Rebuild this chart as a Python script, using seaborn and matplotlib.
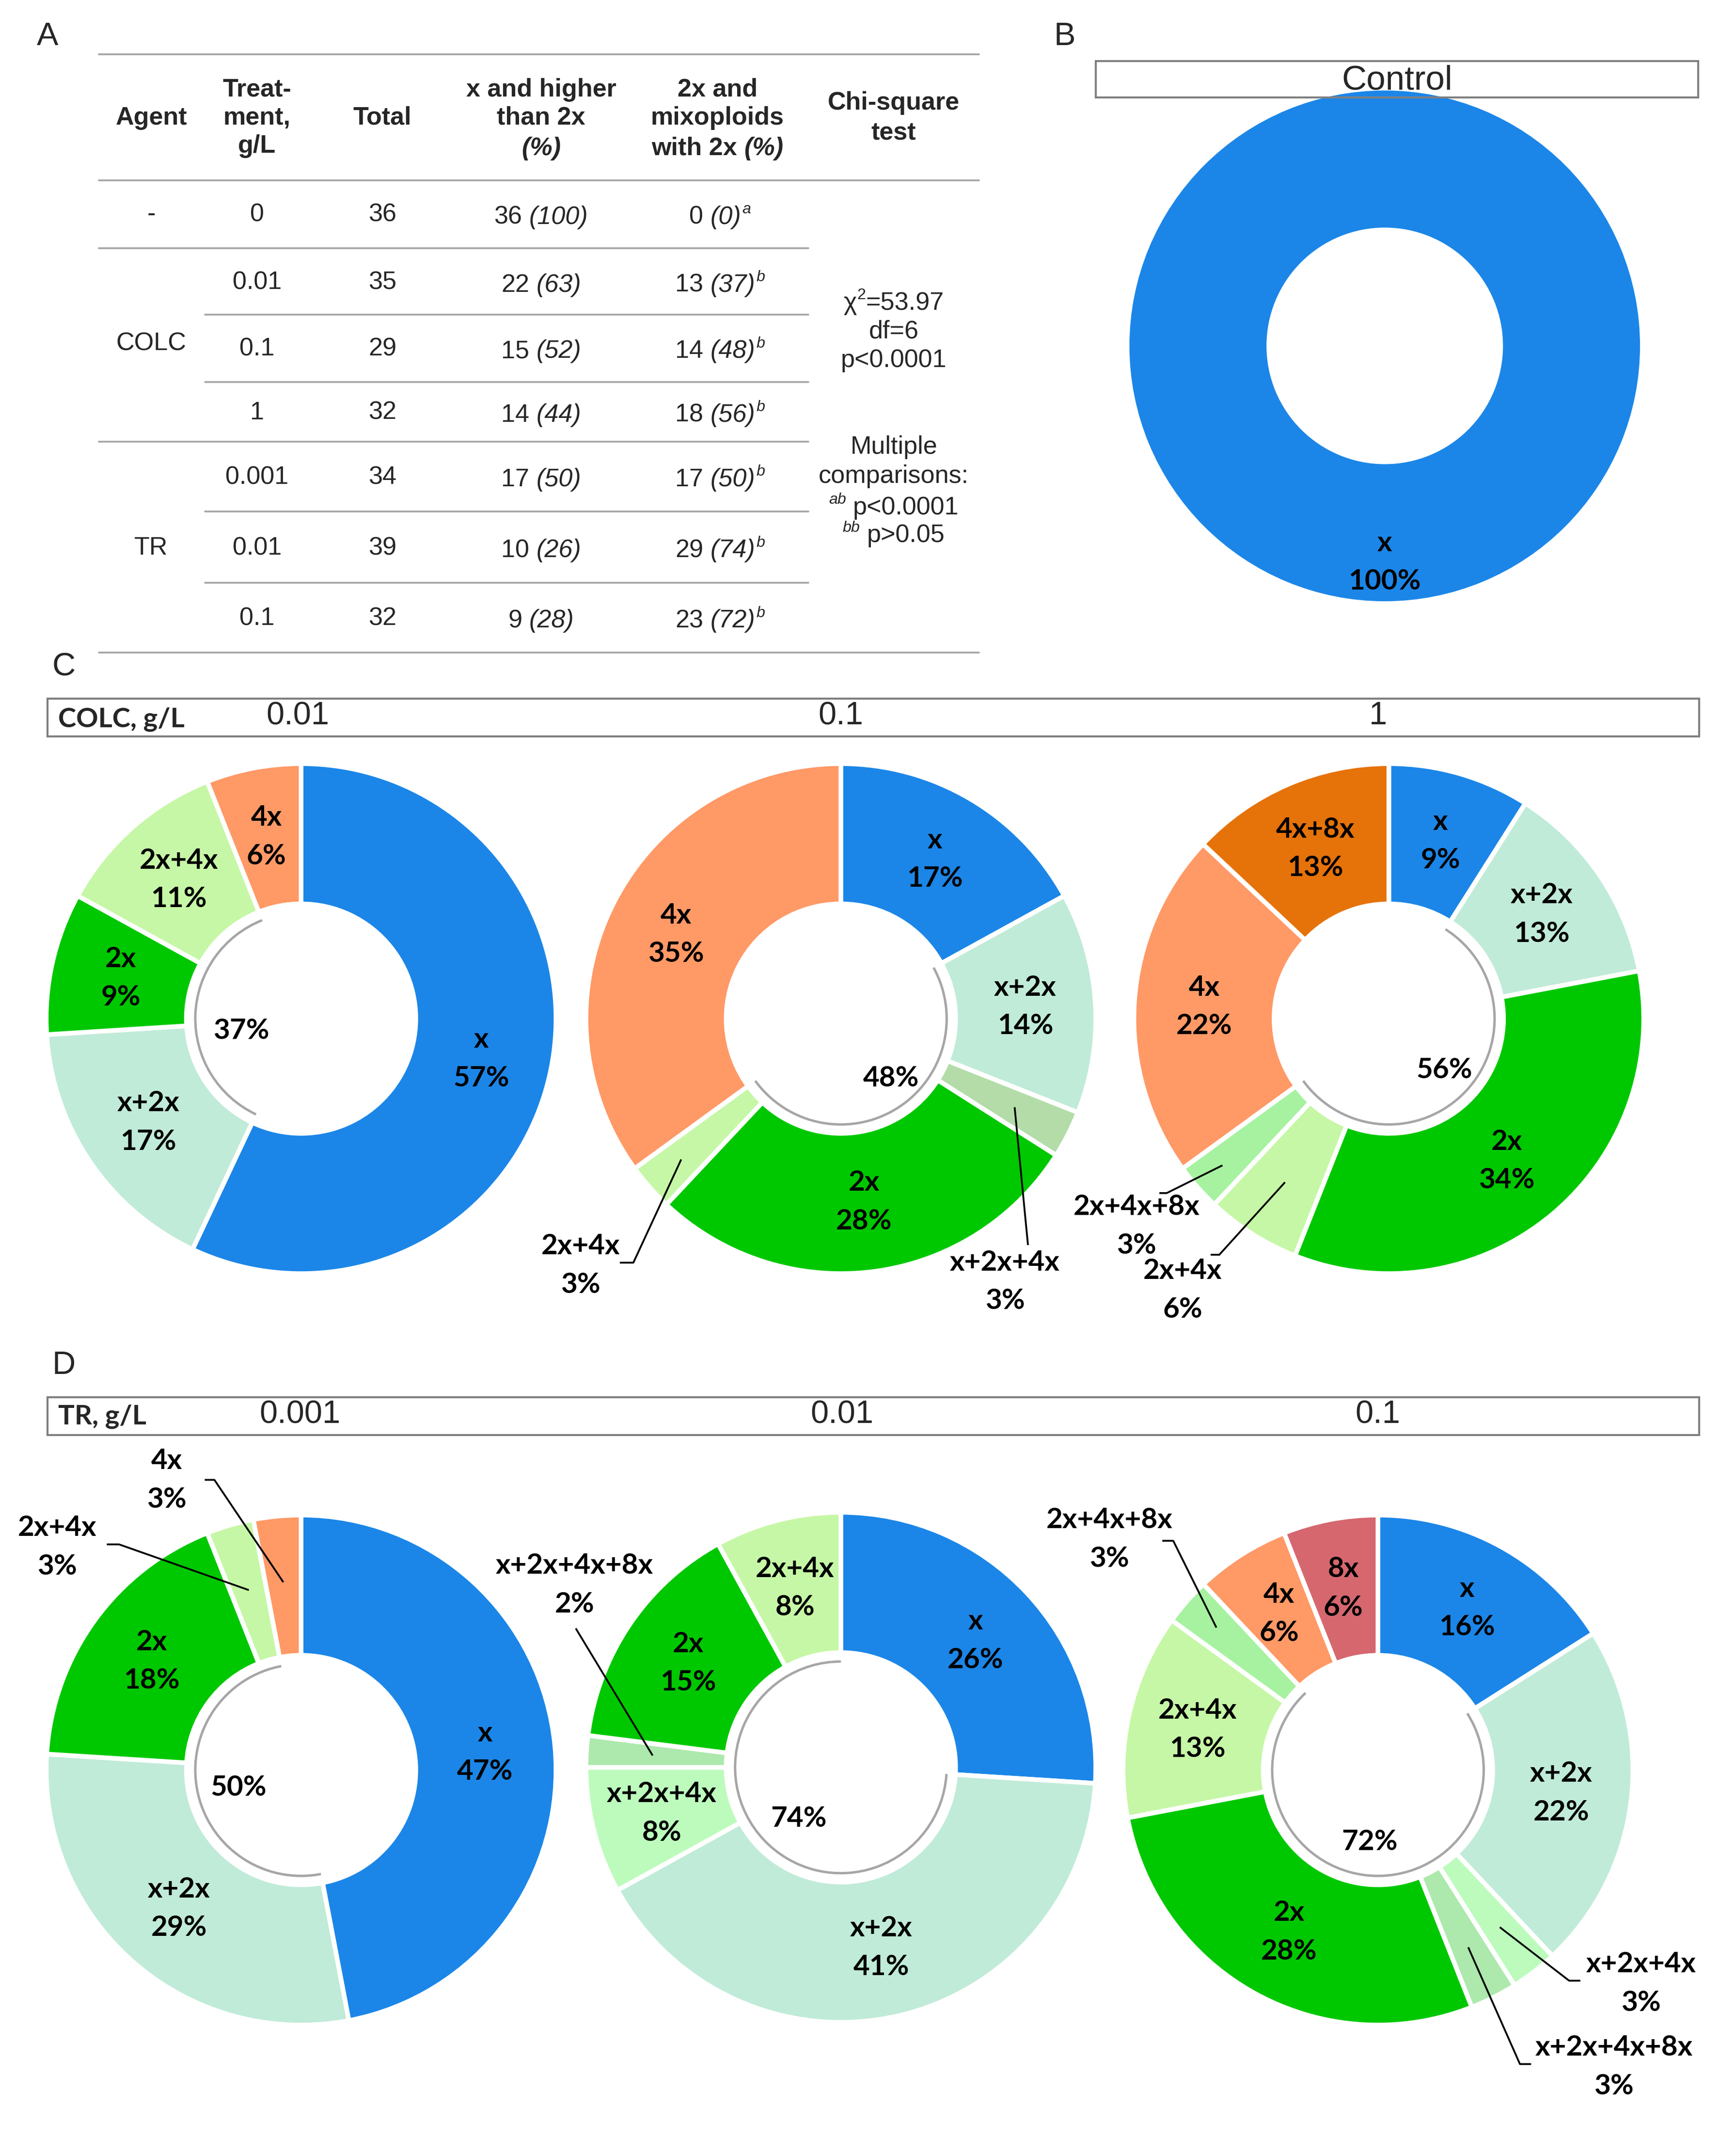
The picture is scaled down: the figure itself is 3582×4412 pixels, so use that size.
import matplotlib
matplotlib.use("Agg")
import numpy as np
import matplotlib.pyplot as plt
import seaborn as sns
from matplotlib.patches import Arc, Rectangle
from matplotlib.lines import Line2D

# ---------------------------------------------------------------- data
# Panel A table
table_agents = ["-", "COLC", "TR"]
treatments = ["0", "0.01", "0.1", "1", "0.001", "0.01", "0.1"]
totals = [36, 35, 29, 32, 34, 39, 32]
x_higher_n = [36, 22, 15, 14, 17, 10, 9]
x_higher_pct = [100, 63, 52, 44, 50, 26, 28]
mixo_n = [0, 13, 14, 18, 17, 29, 23]
mixo_pct = [0, 37, 48, 56, 50, 74, 72]
mixo_sup = ["a", "b", "b", "b", "b", "b", "b"]
chi_square = "53.97"
chi_df = "6"
chi_p = "p<0.0001"
mc_ab = "p<0.0001"
mc_bb = "p>0.05"

# Panel B
control_labels = ["x"]
control_values = [100]

# Panel C (colchicine)
colc_doses = ["0.01", "0.1", "1"]
colc_001_labels = ["x", "x+2x", "2x", "2x+4x", "4x"]
colc_001_values = [57, 17, 9, 11, 6]
colc_01_labels = ["x", "x+2x", "x+2x+4x", "2x", "2x+4x", "4x"]
colc_01_values = [17, 14, 3, 28, 3, 35]
colc_1_labels = ["x", "x+2x", "2x", "2x+4x", "2x+4x+8x", "4x", "4x+8x"]
colc_1_values = [9, 13, 34, 6, 3, 22, 13]

# Panel D (trifluralin)
tr_doses = ["0.001", "0.01", "0.1"]
tr_0001_labels = ["x", "x+2x", "2x", "2x+4x", "4x"]
tr_0001_values = [47, 29, 18, 3, 3]
tr_001_labels = ["x", "x+2x", "x+2x+4x", "x+2x+4x+8x", "2x", "2x+4x"]
tr_001_values = [26, 41, 8, 2, 15, 8]
tr_01_labels = ["x", "x+2x", "x+2x+4x", "x+2x+4x+8x", "2x", "2x+4x",
                "2x+4x+8x", "4x", "8x"]
tr_01_values = [16, 22, 3, 3, 28, 13, 3, 6, 6]

# share of "2x and mixoploids with 2x" shown in the centre of each donut
colc_mixo = [37, 48, 56]
tr_mixo = [50, 74, 72]

# ---------------------------------------------------------------- style
sns.set_theme(style="white")
plt.rcParams["font.family"] = ["Liberation Sans", "DejaVu Sans"]

ploidy_colors = {
    "x": "#1B86E8", "x+2x": "#C0EBD8", "x+2x+4x": "#BDFBBD",
    "x+2x+4x+8x": "#ADE8AD", "2x": "#00C800", "2x+4x": "#C6F7A6",
    "2x+4x+8x": "#A6F2A0", "4x": "#FF9966", "4x+8x": "#E6720A",
    "8x": "#D6676F",
}
color_override = {"colc_01": {"x+2x+4x": "#B3DCA9"}}

LABEL_FONT = dict(family=["Lato", "DejaVu Sans"], fontweight="bold",
                  fontsize=14, color="black")
LINESP = 1.62

W, H = 1280.0, 1577.0
DPI = 300
WPX, HPX = 3582, 4412
fig = plt.figure(figsize=(WPX / DPI, HPX / DPI), dpi=DPI)
fig.patch.set_facecolor("white")
renderer = fig.canvas.get_renderer()


def fx(px):
    return px / W


def fy(py):
    return 1 - py / H


def ftext(x, y, s, **kw):
    kw.setdefault("ha", "center")
    kw.setdefault("va", "center")
    fig.text(fx(x), fy(y), s, **kw)


def rich(x, y, parts, fontsize, cap=0.716):
    """Centred run of text pieces; style flags: b=bold, i=italic, sup=superscript."""
    fs_px = fontsize * DPI / 72
    items = []
    total = 0.0
    for s, st in parts:
        if s is None:
            items.append((None, st * fs_px, 0))
            total += st * fs_px
            continue
        kw = {}
        size = fontsize
        rise = 0.0
        if "sup" in st:
            size = fontsize * 0.62
            rise = 0.42 * fs_px
        if "i" in st:
            kw["fontstyle"] = "italic"
        if "b" in st:
            kw["fontweight"] = "bold"
        t = fig.text(0, 0, s, fontsize=size, ha="left", va="baseline", **kw)
        w = t.get_window_extent(renderer).width
        items.append((t, w, rise))
        total += w
    xpx = fx(x) * WPX - total / 2
    base = fy(y) * HPX - cap * fs_px / 2
    for t, w, rise in items:
        if t is not None:
            t.set_position((xpx / WPX, (base + rise) / HPX))
        xpx += w


def hline(y, x0, x1, color="#A6A6A6", lw=0.9):
    fig.add_artist(Line2D([fx(x0), fx(x1)], [fy(y), fy(y)],
                          transform=fig.transFigure, color=color, lw=lw))


def fbox(x0, y0, x1, y1):
    fig.add_artist(Rectangle((fx(x0), fy(y1)), fx(x1) - fx(x0), fy(y0) - fy(y1),
                             transform=fig.transFigure, fill=False,
                             edgecolor="#7F7F7F", lw=1.0))


# ---------------------------------------------------------------- panel A
ftext(35, 27, "A", fontsize=16)
for y, x0, x1 in [(40, 73, 722), (133, 73, 722), (183, 73, 596), (232, 151, 596),
                  (281.7, 151, 596), (325.5, 73, 596), (377.2, 151, 596),
                  (429.6, 151, 596), (481, 73, 722)]:
    hline(y, x0, x1)

col_x = [111.5, 189.5, 282, 399, 529, 659]
row_y = [158.3, 208.5, 257.3, 304.3, 351.9, 404.2, 456]
TFS = 12.5
SP = 0.278
hb = dict(fontsize=TFS, fontweight="bold")
ftext(col_x[0], 87, "Agent", **hb)
ftext(col_x[1], 66.3, "Treat-", **hb)
ftext(col_x[1], 87, "ment,", **hb)
ftext(col_x[1], 107.6, "g/L", **hb)
ftext(col_x[2], 87, "Total", **hb)
ftext(col_x[3], 66.3, "x and higher", **hb)
ftext(col_x[3], 87, "than 2x", **hb)
rich(col_x[3], 107.6, [("(%)", "bi")], TFS)
ftext(col_x[4], 66.3, "2x and", **hb)
ftext(col_x[4], 87, "mixoploids", **hb)
rich(col_x[4], 107.6, [("with 2x", "b"), (None, SP), ("(%)", "bi")], TFS)
ftext(col_x[5], 75.9, "Chi-square", **hb)
ftext(col_x[5], 98, "test", **hb)

ftext(col_x[0], row_y[0], table_agents[0], fontsize=TFS)
ftext(col_x[0], 253.5, table_agents[1], fontsize=TFS)
ftext(col_x[0], row_y[5], table_agents[2], fontsize=TFS)
for i, y in enumerate(row_y):
    ftext(col_x[1], y, treatments[i], fontsize=TFS)
    ftext(col_x[2], y, str(totals[i]), fontsize=TFS)
    rich(col_x[3], y, [(str(x_higher_n[i]), ""), (None, SP),
                       (f"({x_higher_pct[i]})", "i")], TFS)
    rich(col_x[4] + 2, y, [(str(mixo_n[i]), ""), (None, SP),
                           (f"({mixo_pct[i]})", "i"), (None, 0.04),
                           (mixo_sup[i], "supi")], TFS)

rich(col_x[5], 221.8, [("χ", ""), ("2", "sup"), ("=" + chi_square, "")], TFS)
ftext(col_x[5], 244.6, "df=" + chi_df, fontsize=TFS)
ftext(col_x[5], 265.6, chi_p, fontsize=TFS)
ftext(col_x[5], 329.7, "Multiple", fontsize=TFS)
ftext(col_x[5], 351.2, "comparisons:", fontsize=TFS)
rich(col_x[5], 372.5, [("ab", "supi"), (None, SP), (mc_ab, "")], TFS)
rich(col_x[5], 393.1, [("bb", "supi"), (None, SP), (mc_bb, "")], TFS)

# ---------------------------------------------------------------- donut helper
PAD = 1.45


def donut(key, cx, cy, R, labels, values, mixo=None, center_off=(0, 0),
          outside=None, label_r=0.725):
    S = R * PAD
    ax = fig.add_axes([fx(cx - S), fy(cy + S), 2 * S / W, 2 * S / H])
    cmap = dict(ploidy_colors)
    cmap.update(color_override.get(key, {}))
    palette = sns.color_palette([cmap[l] for l in labels])
    wedges, _ = ax.pie(values, colors=palette, startangle=90, counterclock=False,
                       radius=1.0,
                       wedgeprops=dict(width=0.55, edgecolor="white", linewidth=2.3))
    ax.set_xlim(-PAD, PAD)
    ax.set_ylim(-PAD, PAD)
    ax.set_aspect("equal")
    ax.axis("off")
    outside = outside or {}
    for w, lab, v in zip(wedges, labels, values):
        mid = np.deg2rad((w.theta1 + w.theta2) / 2)
        txt = f"{lab}\n{v}%"
        if lab in outside:
            spec = outside[lab]
            r0 = spec["r0"]
            pts = [(r0 * np.cos(mid), r0 * np.sin(mid))] + spec["path"]
            ax.plot([p[0] for p in pts], [p[1] for p in pts], color="black",
                    lw=0.9, solid_capstyle="butt", clip_on=False)
            ax.text(spec["text"][0], spec["text"][1], txt, ha="center", va="center",
                    multialignment="center", linespacing=LINESP, **LABEL_FONT)
        else:
            ax.text(label_r * np.cos(mid), label_r * np.sin(mid), txt, ha="center",
                    va="center", multialignment="center", linespacing=LINESP,
                    **LABEL_FONT)
    if mixo is not None:
        sel = [w for w, l in zip(wedges, labels) if "2x" in l]
        t1 = min(w.theta1 for w in sel)
        t2 = max(w.theta2 for w in sel)
        ax.add_patch(Arc((0, 0), 0.83, 0.83, theta1=t1, theta2=t2,
                         color="#A6A6A6", lw=1.2))
        ax.text(center_off[0], center_off[1], f"{mixo}%", ha="center", va="center",
                **LABEL_FONT)
    return ax


# ---------------------------------------------------------------- panel B
ftext(785, 27, "B", fontsize=16)
fbox(808, 45, 1252, 72)
ftext(1030, 59.5, "Control", fontsize=17)
donut("control", 1021, 255, 190, control_labels, control_values, label_r=0.84)

# ---------------------------------------------------------------- panel C
ftext(47, 492, "C", fontsize=16)
fbox(35, 515, 1253, 543)
ftext(43, 530.5, "COLC, g/L", ha="left", family=["Lato", "DejaVu Sans"],
      fontweight="bold", fontsize=13.5)
for x, d in zip([219.5, 620, 1016], colc_doses):
    ftext(x, 528, d, fontsize=16)

donut("colc_001", 222, 751, 188, colc_001_labels, colc_001_values,
      mixo=colc_mixo[0], center_off=(-0.234, -0.048))
donut("colc_01", 620, 751, 188, colc_01_labels, colc_01_values,
      mixo=colc_mixo[1], center_off=(0.197, -0.234),
      outside={
          "2x+4x": dict(text=(-1.021, -0.968), r0=0.835,
                        path=[(-0.814, -0.957), (-0.867, -0.957)]),
          "x+2x+4x": dict(text=(0.644, -1.032), r0=0.765, path=[(0.734, -0.888)]),
      })
donut("colc_1", 1024, 751, 188, colc_1_labels, colc_1_values,
      mixo=colc_mixo[2], center_off=(0.218, -0.202),
      outside={
          "2x+4x+8x": dict(text=(-0.990, -0.815), r0=0.87,
                           path=[(-0.871, -0.684), (-0.900, -0.684)]),
          "2x+4x": dict(text=(-0.809, -1.065), r0=0.76,
                        path=[(-0.665, -0.926), (-0.699, -0.926)]),
      })

# ---------------------------------------------------------------- panel D
ftext(47, 1007, "D", fontsize=16)
fbox(35, 1030, 1253, 1058)
ftext(43, 1044.5, "TR, g/L", ha="left", family=["Lato", "DejaVu Sans"],
      fontweight="bold", fontsize=13.5)
for x, d in zip([221, 621, 1016], tr_doses):
    ftext(x, 1043.3, d, fontsize=16)

donut("tr_0001", 222, 1305, 188, tr_0001_labels, tr_0001_values,
      mixo=tr_mixo[0], center_off=(-0.245, -0.069),
      outside={
          "4x": dict(text=(-0.527, 1.136), r0=0.74,
                     path=[(-0.340, 1.138), (-0.378, 1.138)]),
          "2x+4x": dict(text=(-0.957, 0.874), r0=0.735,
                        path=[(-0.714, 0.885), (-0.762, 0.885)]),
      })
donut("tr_001", 620, 1303, 188, tr_001_labels, tr_001_values,
      mixo=tr_mixo[1], center_off=(-0.165, -0.202),
      outside={
          "x+2x+4x+8x": dict(text=(-1.045, 0.715), r0=0.74, path=[(-1.04, 0.545)]),
      })
donut("tr_01", 1016, 1305, 188, tr_01_labels, tr_01_values,
      mixo=tr_mixo[2], center_off=(-0.032, -0.282),
      outside={
          "2x+4x+8x": dict(text=(-1.053, 0.904), r0=0.845,
                           path=[(-0.803, 0.899), (-0.846, 0.899)]),
          "x+2x+4x": dict(text=(1.032, -0.838), r0=0.78,
                          path=[(0.750, -0.826), (0.794, -0.826)]),
          "x+2x+4x+8x": dict(text=(0.926, -1.165), r0=0.78,
                             path=[(0.557, -1.153), (0.601, -1.153)]),
      })

fig.savefig("out.png", dpi=DPI, facecolor="white")
